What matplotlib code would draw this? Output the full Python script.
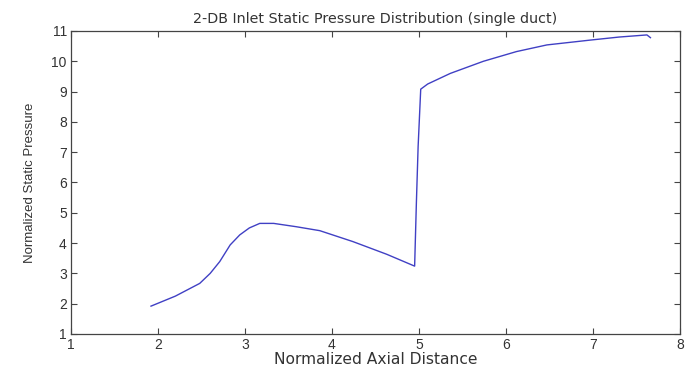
import matplotlib
matplotlib.use("Agg")
import matplotlib.pyplot as plt

x_dist = [1.92, 2.2, 2.48, 2.6, 2.71, 2.83, 2.94, 3.05, 3.17, 3.33, 3.59, 3.86,
          4.24, 4.63, 4.95, 4.97, 4.99, 5.02, 5.1, 5.36, 5.74, 6.12, 6.47, 6.97,
          7.3, 7.62, 7.66]
pressure = [1.92, 2.25, 2.67, 3.0, 3.39, 3.94, 4.27, 4.5, 4.65, 4.65, 4.54, 4.41,
            4.05, 3.63, 3.24, 5.32, 7.18, 9.08, 9.25, 9.60, 10.0, 10.32, 10.54, 10.70,
            10.80, 10.87, 10.78]
x_ticks = [1, 2, 3, 4, 5, 6, 7, 8]
y_ticks = [1, 2, 3, 4, 5, 6, 7, 8, 9, 10, 11]

plt.rcParams['font.family'] = ['Liberation Sans', 'DejaVu Sans']
text_color = '#333333'

fig = plt.figure(figsize=(6.85, 3.68), dpi=100)
ax = fig.add_axes([0.1036, 0.0924, 0.8891, 0.8234])
ax.plot(x_dist, pressure, color='#4040c4', linewidth=1.0)
ax.set_xlim(1, 8)
ax.set_ylim(1, 11)
ax.set_xticks(x_ticks)
ax.set_yticks(y_ticks)
ax.tick_params(direction='in', length=4, width=0.8, top=True, right=True,
               labelsize=10, colors='#444444', labelcolor=text_color, pad=3)
for s in ax.spines.values():
    s.set_color('#444444')
    s.set_linewidth(0.9)
ax.set_title('2-DB Inlet Static Pressure Distribution (single duct)', fontsize=10.3,
             family=['DejaVu Sans'], color=text_color, pad=6)
ax.set_xlabel('Normalized Axial Distance', fontsize=11.2, family=['DejaVu Sans'],
              color=text_color, labelpad=0)
ax.set_ylabel('Normalized Static Pressure', fontsize=9.5, color=text_color, labelpad=11)
fig.savefig('out.png', dpi=100)
